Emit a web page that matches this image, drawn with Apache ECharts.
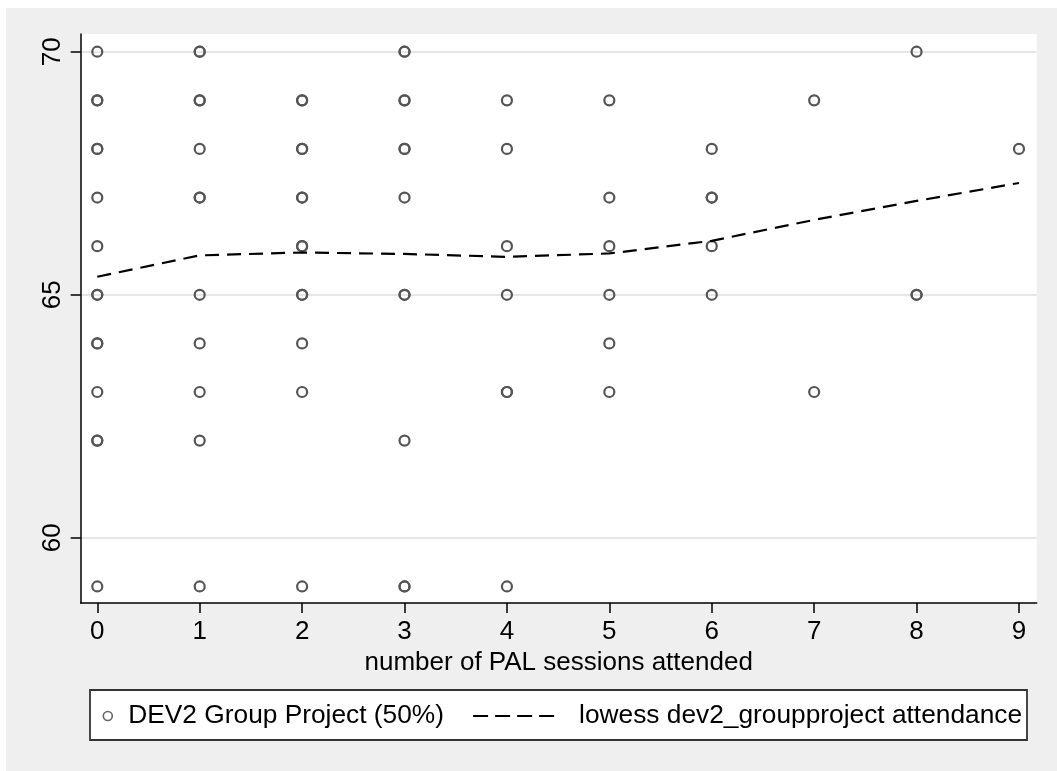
<!DOCTYPE html>
<html>
<head>
<meta charset="utf-8">
<script src="https://cdn.jsdelivr.net/npm/echarts@6/dist/echarts.min.js"></script>
<style>
  html, body { margin: 0; padding: 0; background: #efefef; overflow: hidden; }
  #chart { width: 1057px; height: 771px; }
</style>
</head>
<body>
<div id="chart"></div>
<script>
// Sessions attended (x) and group project mark (y), one entry per student.
// Repeated pairs are students sharing the same values.
const sessions = [
  0,0,0,0,0,0,0,0,0,0,0,0,0,0,0,
  1,1,1,1,1,1,1,1,1,1,1,1,
  2,2,2,2,2,2,2,2,2,2,2,2,2,
  3,3,3,3,3,3,3,3,3,3,3,3,
  4,4,4,4,4,4,4,
  5,5,5,5,5,5,
  6,6,6,6,6,
  7,7,
  8,8,8,
  9
];
const grades = [
  70,69,69,68,68,67,66,65,65,64,64,63,62,62,59,
  70,70,69,69,68,67,67,65,64,63,62,59,
  69,69,68,68,67,67,66,66,65,65,64,63,59,
  70,70,69,69,68,68,67,65,65,62,59,59,
  69,68,66,65,63,63,59,
  69,67,66,65,64,63,
  68,67,67,66,65,
  69,63,
  70,65,65,
  68
];

// Lowess smooth evaluated at each attendance level
const lowessX = [0, 1, 2, 3, 4, 5, 6, 7, 8, 9];
const lowessY = [65.37, 65.81, 65.87, 65.84, 65.78, 65.85, 66.11, 66.54, 66.93, 67.30];

const xTicks = [0, 1, 2, 3, 4, 5, 6, 7, 8, 9];
const yTicks = [60, 65, 70];

const scatterName = 'DEV2 Group Project (50%)';
const lowessName = 'lowess dev2_groupproject attendance';
const xTitle = 'number of PAL sessions attended';

const FONT = '"Liberation Sans", Arial, Helvetica, sans-serif';
const FS = 26;
const LEGEND_FS = 26.3;

const scatterData = sessions.map((s, i) => [s, grades[i]]);
const lowessData = lowessX.map((s, i) => [s, lowessY[i]]);

const chart = echarts.init(document.getElementById('chart'), null, { renderer: 'canvas' });

chart.setOption({
  backgroundColor: '#ffffff',
  animation: false,
  textStyle: { fontFamily: FONT },
  graphic: [
    {
      type: 'rect', z: -10, silent: true,
      shape: { x: 6, y: 8, width: 1060, height: 780 },
      style: { fill: '#efefef' }
    },
    {
      type: 'rect', z: 3, silent: true,
      shape: { x: 90, y: 690, width: 937, height: 50 },
      style: { fill: '#ffffff', stroke: '#333333', lineWidth: 1.8 }
    }
  ],
  grid: {
    left: 80.7, right: 20.3, top: 34, bottom: 168,
    show: true, backgroundColor: '#ffffff', borderWidth: 0
  },
  xAxis: {
    type: 'value',
    min: -0.162, max: 9.173,
    name: xTitle,
    nameLocation: 'middle',
    nameGap: 46,
    nameTextStyle: { fontSize: FS, color: '#000', fontFamily: FONT },
    axisLine: { show: true, onZero: false, lineStyle: { color: '#000', width: 1.5 } },
    axisTick: { show: true, length: 10, lineStyle: { color: '#000', width: 1.5 },
      customValues: xTicks },
    axisLabel: { fontSize: FS, color: '#000', margin: 16, fontFamily: FONT,
      customValues: xTicks, showMinLabel: true, showMaxLabel: true },
    splitLine: { show: false }
  },
  yAxis: {
    type: 'value',
    min: 58.66, max: 70.364,
    axisLine: { show: true, onZero: false, lineStyle: { color: '#000', width: 1.5 } },
    axisTick: { show: true, length: 10, lineStyle: { color: '#000', width: 1.5 },
      customValues: yTicks },
    axisLabel: { fontSize: FS, color: '#000', margin: 15, rotate: 90, fontFamily: FONT,
      customValues: yTicks },
    splitLine: { show: true, lineStyle: { color: '#e6e6e6', width: 2 } }
  },
  legend: [
    {
      data: [scatterName],
      left: 102.5, top: 701,
      orient: 'horizontal',
      padding: 0,
      itemWidth: 9, itemHeight: 9,
      icon: 'circle',
      itemStyle: { color: 'rgba(0,0,0,0)', borderColor: '#666666', borderWidth: 1.6 },
      textStyle: { fontSize: LEGEND_FS, color: '#000', fontFamily: FONT, lineHeight: 30,
        padding: [0, 0, 0, 11] },
      selectedMode: false
    },
    {
      data: [lowessName],
      left: 472, top: 701,
      orient: 'horizontal',
      padding: 0,
      itemWidth: 85, itemHeight: 14,
      itemStyle: { opacity: 0 },
      lineStyle: { color: '#000', width: 2.2, type: [15, 7] },
      textStyle: { fontSize: LEGEND_FS, color: '#000', fontFamily: FONT, lineHeight: 30,
        padding: [0, 0, 0, 16] },
      selectedMode: false
    }
  ],
  series: [
    {
      name: scatterName,
      type: 'scatter',
      data: scatterData,
      symbol: 'circle',
      symbolSize: 10,
      itemStyle: { color: 'rgba(0,0,0,0)', borderColor: '#555555', borderWidth: 2.2, opacity: 1 },
      emphasis: { disabled: true },
      z: 3
    },
    {
      name: lowessName,
      type: 'line',
      data: lowessData,
      showSymbol: false,
      symbol: 'none',
      smooth: false,
      lineStyle: { color: '#000', width: 2.2, type: [14, 8] },
      itemStyle: { color: '#000' },
      emphasis: { disabled: true },
      z: 4
    }
  ]
});
</script>
</body>
</html>
